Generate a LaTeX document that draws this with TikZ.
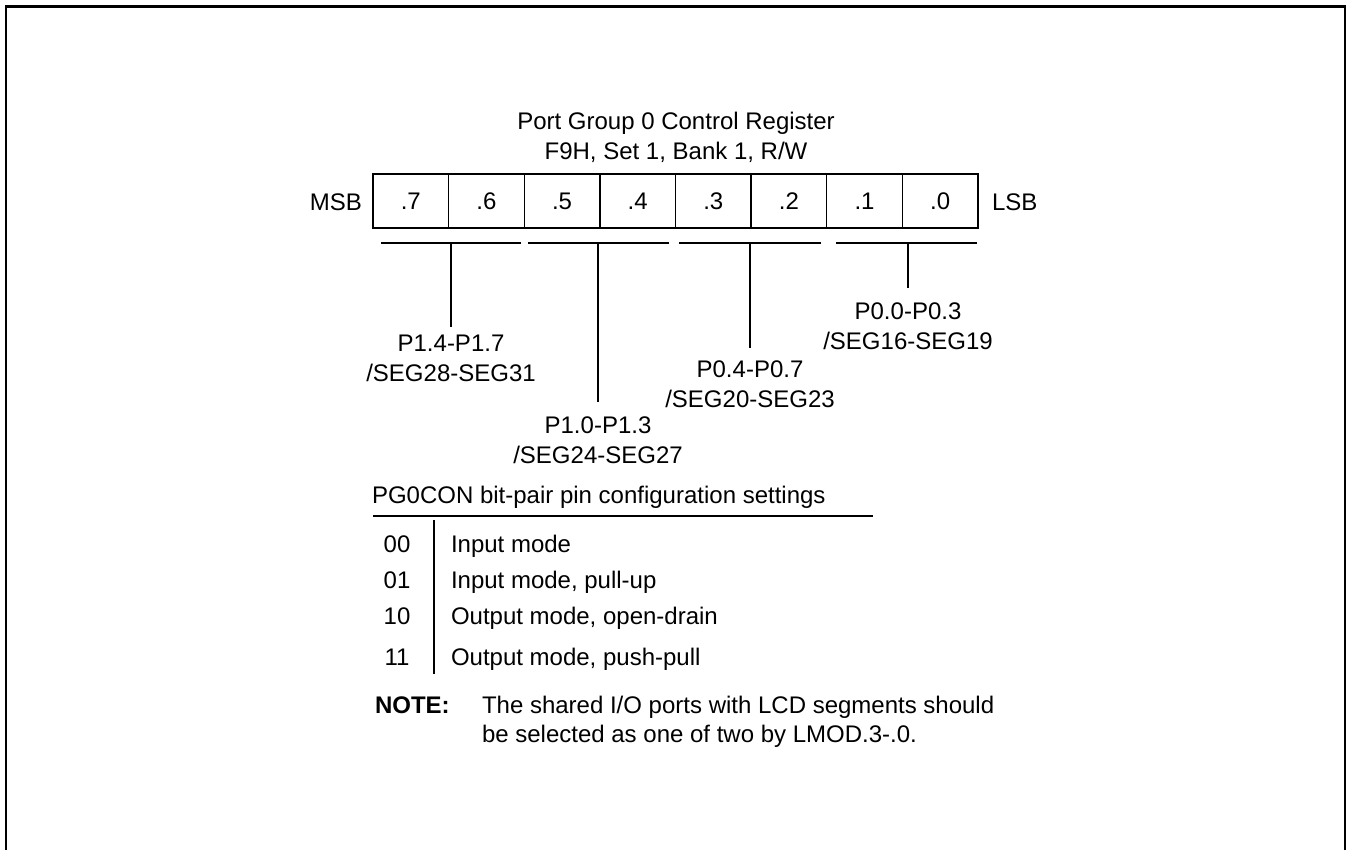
\documentclass[tikz,border=0pt]{standalone}
\usepackage{fontspec}
\setmainfont{Liberation Sans}
\begin{document}
\begin{tikzpicture}[x=1pt,y=-1pt,
  every node/.style={font=\fontsize{24}{29.3}\selectfont, inner sep=0pt, outer sep=0pt},
  framestyle/.style={line width=2.4pt},
  rule/.style={line width=1.4pt},
  cellbox/.style={draw, line width=1.4pt, minimum width=75.625pt, minimum height=54pt, text height=17pt, text depth=0pt},
  plabel/.style={align=center, anchor=center},
  txt/.style={anchor=base west},
  code/.style={anchor=base}
]
\useasboundingbox (0,0) rectangle (1348,850);

% outer frame (open at the bottom)
\coordinate (fbl) at (6,851);
\coordinate (ftl) at (6,6.5);
\coordinate (ftr) at (1345,6.5);
\coordinate (fbr) at (1345,851);
\draw[framestyle] (fbl) -- (ftl) -- (ftr) -- (fbr);

% title
\node[anchor=base] (title) at (676,130) {Port Group 0 Control Register};
\node[anchor=base] (addr) at (676,160) {F9H, Set 1, Bank 1, R/W};

% register cells
\foreach \b [count=\k from 0] in {7,6,5,4,3,2,1,0} {
  \node[cellbox] (c\b) at ({373+75.625*(\k+0.5)},201) {.\b};
}
\node[anchor=base east] (msb) at (362,211) {MSB};
\node[anchor=base west] (lsb) at (992,211) {LSB};

% bracket segments
\coordinate (b1l) at (381,243); \coordinate (b1r) at (521,243);
\coordinate (b2l) at (528,243); \coordinate (b2r) at (669,243);
\coordinate (b3l) at (679,243); \coordinate (b3r) at (821,243);
\coordinate (b4l) at (836,243); \coordinate (b4r) at (977,243);
\draw[rule] (b1l) -- (b1r);
\draw[rule] (b2l) -- (b2r);
\draw[rule] (b3l) -- (b3r);
\draw[rule] (b4l) -- (b4r);

% stems
\coordinate (s1t) at (451,243); \coordinate (s1b) at (451,327);
\coordinate (s2t) at (598,243); \coordinate (s2b) at (598,402);
\coordinate (s3t) at (750,243); \coordinate (s3b) at (750,348);
\coordinate (s4t) at (908,243); \coordinate (s4b) at (908,288);
\draw[rule] (s1t) -- (s1b);
\draw[rule] (s2t) -- (s2b);
\draw[rule] (s3t) -- (s3b);
\draw[rule] (s4t) -- (s4b);

% pin labels
\node[plabel] (l1) at (451,358.3) {P1.4-P1.7\\/SEG28-SEG31};
\node[plabel] (l2) at (598,440.3) {P1.0-P1.3\\/SEG24-SEG27};
\node[plabel] (l3) at (750,384.3) {P0.4-P0.7\\/SEG20-SEG23};
\node[plabel] (l4) at (908,326.3) {P0.0-P0.3\\/SEG16-SEG19};

% settings table
\node[txt] (hdr) at (372,503) {PG0CON bit-pair pin configuration settings};
\coordinate (u1) at (373,516); \coordinate (u2) at (873,516);
\draw[rule] (u1) -- (u2);
\coordinate (v1) at (434,520); \coordinate (v2) at (434,674);
\draw[rule] (v1) -- (v2);

\node[code] (k00) at (397,552) {00};
\node[code] (k01) at (397,588) {01};
\node[code] (k10) at (397,624) {10};
\node[code] (k11) at (397,665) {11};
\node[txt] (d00) at (451,552) {Input mode};
\node[txt] (d01) at (451,588) {Input mode, pull-up};
\node[txt] (d10) at (451,624) {Output mode, open-drain};
\node[txt] (d11) at (451,665) {Output mode, push-pull};

% note
\node[txt, font=\fontsize{24}{29.3}\selectfont\bfseries] (notehd) at (375,713.5) {NOTE:};
\node[anchor=west, align=left] (notetx) at (482,721.9) {The shared I/O ports with LCD segments should\\be selected as one of two by LMOD.3-.0.};
\end{tikzpicture}
\end{document}
